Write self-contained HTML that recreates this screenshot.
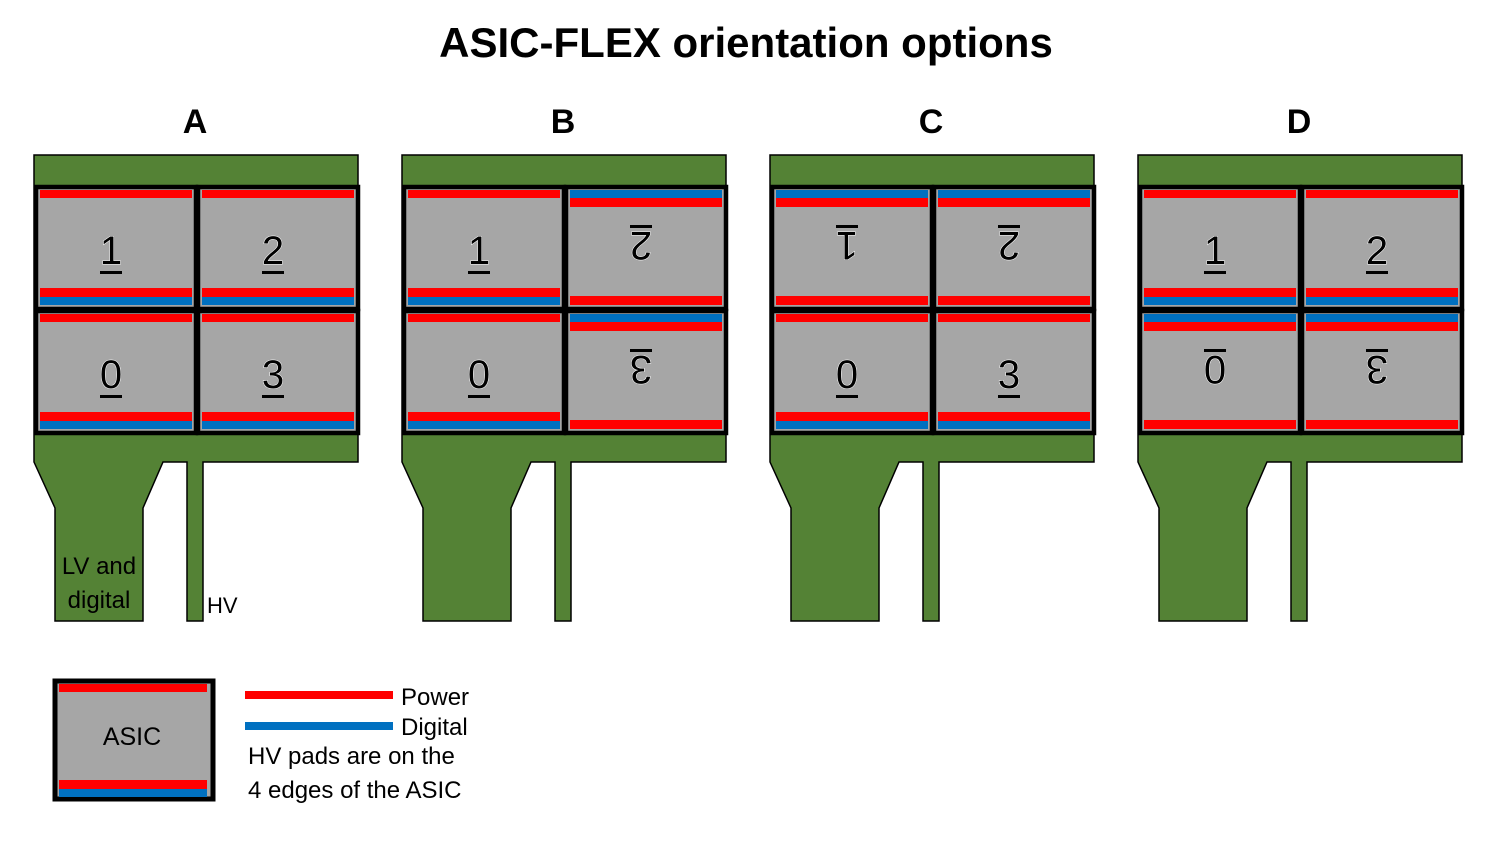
<!DOCTYPE html>
<html><head><meta charset="utf-8"><style>
html,body{margin:0;padding:0;background:#fff;width:1500px;height:844px;overflow:hidden}
svg text{font-family:"Liberation Sans","DejaVu Sans",sans-serif}
</style></head><body>
<svg id="fig" width="1500" height="844" viewBox="0 0 1500 844" xmlns="http://www.w3.org/2000/svg">
<text x="746" y="57" text-anchor="middle" font-size="42" font-weight="bold" fill="#000">ASIC-FLEX orientation options</text>
<g id="panels"></g>
<g>
<rect x="55" y="681" width="158" height="118" fill="#a6a6a6" stroke="#000" stroke-width="5"/>
<rect x="59" y="684" width="148" height="8" fill="#ff0000"/>
<rect x="59" y="780" width="148" height="9" fill="#ff0000"/>
<rect x="59" y="789" width="148" height="8" fill="#0070c0"/>
<text x="132" y="745" text-anchor="middle" font-size="25" fill="#000">ASIC</text>
<rect x="245" y="691" width="148" height="8" fill="#ff0000"/>
<rect x="245" y="722" width="148" height="8" fill="#0070c0"/>
<text x="401" y="705" font-size="24" fill="#000">Power</text>
<text x="401" y="735" font-size="24" fill="#000">Digital</text>
<text x="248" y="764" font-size="24" fill="#000">HV pads are on the</text>
<text x="248" y="798" font-size="24" fill="#000">4 edges of the ASIC</text>
</g>
</svg>
<script>
const panelNames = ['A','B','C','D'];
// orientation per cell: order [1,2,0,3]; true = flipped
const cellLabels = ['1','2','0','3'];
const flipA = [false,false,false,false];
const flipB = [false,true,false,true];
const flipC = [true,true,false,false];
const flipD = [false,false,true,true];
const flips = [flipA,flipB,flipC,flipD];
const NS='http://www.w3.org/2000/svg';
const root=document.getElementById('panels');
function mk(tag,attrs,parent){const e=document.createElementNS(NS,tag);for(const k in attrs)e.setAttribute(k,attrs[k]);(parent||root).appendChild(e);return e;}
panelNames.forEach((p,i)=>{
  const ox=34+i*368;
  const g=mk('g',{});
  
  
  const t=mk('text',{x:ox+161,y:133,'text-anchor':'middle','font-size':34,'font-weight':'bold',fill:'#000'},g);
  t.textContent=p;
  
  
  const flex=mk('path',{d:`M${ox},155 H${ox+324} V462 H${ox+169} V621 H${ox+153} V462 H${ox+129} L${ox+109},508 V621 H${ox+21} V508 L${ox},462 Z`,fill:'#548235',stroke:'#000','stroke-width':1.5},g);
  
  
  const pos=[[0,0],[1,0],[0,1],[1,1]];
  pos.forEach(([cx,cy],k)=>{
    const x=ox+2+cx*162, y=187+cy*124, w=160, h=122;
    const cg=mk('g',{},g);
    
    
    mk('rect',{x:x,y:y,width:w,height:h,fill:'#a6a6a6',stroke:'#000','stroke-width':4.5},cg);
    const sx=x+4, sw=w-8;
    const fl=flips[i][k];
    if(!fl){
      mk('rect',{x:sx,y:y+3,width:sw,height:8,fill:'#ff0000'},cg);
      mk('rect',{x:sx,y:y+101,width:sw,height:9,fill:'#ff0000'},cg);
      mk('rect',{x:sx,y:y+110,width:sw,height:8,fill:'#0070c0'},cg);
    } else {
      mk('rect',{x:sx,y:y+3,width:sw,height:8,fill:'#0070c0'},cg);
      mk('rect',{x:sx,y:y+11,width:sw,height:9,fill:'#ff0000'},cg);
      mk('rect',{x:sx,y:y+109,width:sw,height:9,fill:'#ff0000'},cg);
    }
    const lx=x+w/2-5, ly=y+63;
    const tx=mk('text',{x:lx,y:ly+14,'text-anchor':'middle','font-size':40,fill:'#000',stroke:'#fff','stroke-width':1,'paint-order':'stroke'},cg);
    if(fl) tx.setAttribute('transform',`rotate(180 ${lx} ${ly-2})`);
    tx.textContent=cellLabels[k];
    mk('rect',{x:lx-11,y:fl?ly-25:ly+21,width:22,height:3,fill:'#000'},cg);
  });
});
const lv=document.createElementNS(NS,'text');


lv.setAttribute('font-size','24');lv.setAttribute('text-anchor','middle');
lv.innerHTML='<tspan x="99" y="574">LV and</tspan><tspan x="99" y="608">digital</tspan>';
root.appendChild(lv);
const hv=mk('text',{x:207,y:613,'font-size':22,fill:'#000'});
hv.textContent='HV';


</script>
</body></html>
